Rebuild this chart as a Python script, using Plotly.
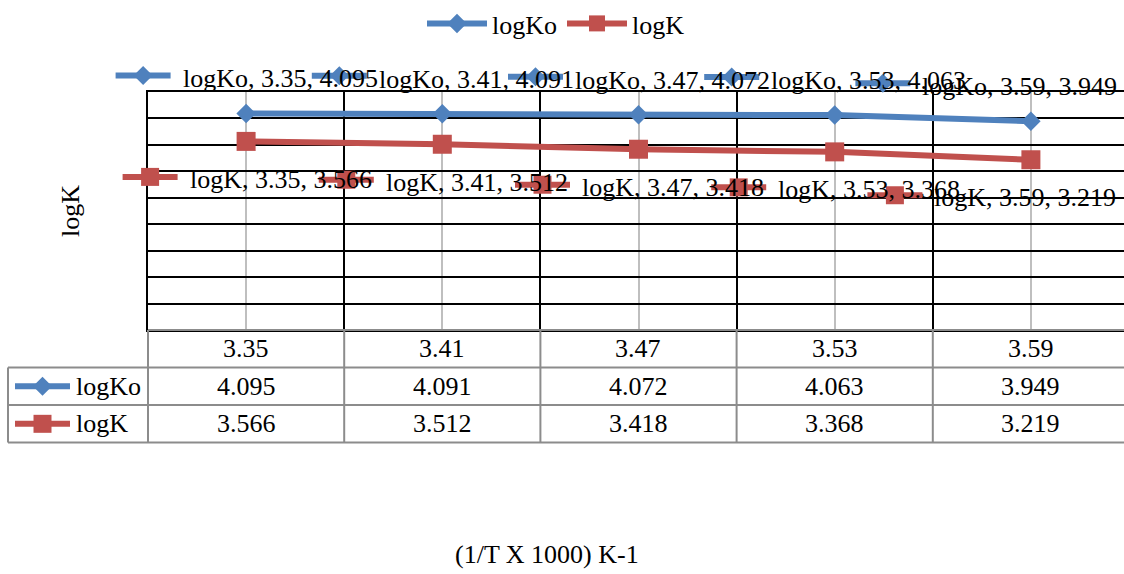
import plotly.graph_objects as go

# ---------------- data ----------------
categories = ["3.35", "3.41", "3.47", "3.53", "3.59"]
logKo = [4.095, 4.091, 4.072, 4.063, 3.949]
logK = [3.566, 3.512, 3.418, 3.368, 3.219]
series_names = ["logKo", "logK"]
x_title = "(1/T X 1000) K-1"
y_title = "logK"

# ---------------- style ----------------
BLUE = "#4F81BD"
RED = "#C0504D"
GRAY = "#8C8C8C"
LIGHT = "#BFBFBF"
FONT = "Liberation Serif"
FS = 26
W, H = 1124, 574
L, R, T, B = 148, 1124, 89, 330          # plot area in px
PXC = 196.2                              # px per category
XMIN = -0.5
XMAX = XMIN + (R - L) / PXC
YMIN, YMAX = 0.0, 4.5

# per-label horizontal shift (px) for the last labels pushed in from the edge
KO_SHIFT = [0, 0, 0, 0, -45]
K_SHIFT = [0, 0, 0, 0, -40]


def xpap(i):
    return (i - XMIN) / (XMAX - XMIN)


def ypap(v):
    return (v - YMIN) / (YMAX - YMIN)


def pxx(px):
    return (px - L) / (R - L)


def pyy(py):
    return (B - py) / (B - T)


xs = list(range(len(categories)))
shapes = []
annotations = []


def add_key(xa, ya, dx, dy, color, symbol):
    shapes.append(dict(type="line", xref="paper", yref="paper",
                       xsizemode="pixel", ysizemode="pixel",
                       xanchor=xa, yanchor=ya,
                       x0=dx - 27.5, x1=dx + 27.5, y0=dy, y1=dy,
                       line=dict(color=color, width=6)))
    if symbol == "diamond":
        r = 9.5
        path = (f"M{dx},{dy + r} L{dx + r},{dy} L{dx},{dy - r} "
                f"L{dx - r},{dy} Z")
        shapes.append(dict(type="path", xref="paper", yref="paper",
                           xsizemode="pixel", ysizemode="pixel",
                           xanchor=xa, yanchor=ya, path=path,
                           fillcolor=color, line=dict(width=0)))
    else:
        r = 9
        shapes.append(dict(type="rect", xref="paper", yref="paper",
                           xsizemode="pixel", ysizemode="pixel",
                           xanchor=xa, yanchor=ya,
                           x0=dx - r, x1=dx + r, y0=dy - r, y1=dy + r,
                           fillcolor=color, line=dict(width=0)))


def text(x, y, s, xanchor="center", xshift=0, yshift=0, angle=0):
    annotations.append(dict(x=x, y=y, xref="paper", yref="paper", text=s,
                            showarrow=False, xanchor=xanchor,
                            yanchor="middle", xshift=xshift, yshift=yshift,
                            textangle=angle,
                            font=dict(family=FONT, size=FS, color="black")))


fig = go.Figure()
fig.add_trace(go.Scatter(x=xs, y=logKo, name=series_names[0],
                         mode="lines+markers",
                         line=dict(color=BLUE, width=6),
                         marker=dict(symbol="diamond", size=15, color=BLUE)))
fig.add_trace(go.Scatter(x=xs, y=logK, name=series_names[1],
                         mode="lines+markers",
                         line=dict(color=RED, width=6),
                         marker=dict(symbol="square", size=19, color=RED)))

# data labels with legend keys
for i, (c, v) in enumerate(zip(categories, logKo)):
    s = KO_SHIFT[i]
    add_key(xpap(i), ypap(v), -103 + s, 38, BLUE, "diamond")
    text(xpap(i), ypap(v), f"{series_names[0]}, {c}, {v:.3f}",
         xanchor="left", xshift=-65.5 + s, yshift=34.5)
for i, (c, v) in enumerate(zip(categories, logK)):
    s = K_SHIFT[i]
    add_key(xpap(i), ypap(v), -96 + s, -35.5, RED, "square")
    text(xpap(i), ypap(v), f"{series_names[1]}, {c}, {v:.3f}",
         xanchor="left", xshift=-58.5 + s, yshift=-38)

# ---------------- data table ----------------
rows_y = [330, 368, 406, 444]
left_px = 8
right_p = 1.05


def hline(py, x0, x1):
    shapes.append(dict(type="line", xref="paper", yref="paper",
                       x0=x0, x1=x1, y0=pyy(py), y1=pyy(py),
                       line=dict(color=GRAY, width=2)))


def vline(xp, py0, py1):
    shapes.append(dict(type="line", xref="paper", yref="paper",
                       x0=xp, x1=xp, y0=pyy(py0), y1=pyy(py1),
                       line=dict(color=GRAY, width=2)))


hline(rows_y[0], 0, right_p)
for py in rows_y[1:]:
    hline(py, pxx(left_px), right_p)
vline(pxx(left_px), rows_y[1], rows_y[3])
for i in range(-1, len(categories)):
    vline(xpap(i + 0.5), rows_y[0], rows_y[3])

cy = [(rows_y[k] + rows_y[k + 1]) / 2 for k in range(3)]
for i, c in enumerate(categories):
    text(xpap(i), pyy(cy[0]), c)
    text(xpap(i), pyy(cy[1]), f"{logKo[i]:.3f}")
    text(xpap(i), pyy(cy[2]), f"{logK[i]:.3f}")

add_key(pxx(42.5), pyy(cy[1]), 0, 0, BLUE, "diamond")
add_key(pxx(42.5), pyy(cy[2]), 0, 0, RED, "square")
text(pxx(74), pyy(cy[1]), series_names[0], xanchor="left")
text(pxx(74), pyy(cy[2]), series_names[1], xanchor="left")

# axis titles
text(pxx(70), 0.5, y_title, angle=-90)
text(pxx(547), pyy(557), x_title)

fig.update_layout(
    width=W, height=H,
    margin=dict(l=L, r=W - R, t=T, b=H - B, pad=0),
    paper_bgcolor="white", plot_bgcolor="white",
    font=dict(family=FONT, size=FS, color="black"),
    showlegend=True,
    legend=dict(orientation="h", x=pxx(556), xanchor="center",
                y=pyy(19), yanchor="middle", itemwidth=60,
                font=dict(family=FONT, size=FS, color="black"),
                bgcolor="rgba(0,0,0,0)"),
    xaxis=dict(range=[XMIN, XMAX], tickvals=xs, showticklabels=False,
               ticks="", showgrid=True, gridcolor=LIGHT, gridwidth=2,
               minor=dict(tickvals=[i + 0.5 for i in xs[:-1]],
                          showgrid=True, gridcolor="black", gridwidth=2,
                          ticks=""),
               showline=True, mirror=True, linecolor="black", linewidth=2,
               zeroline=False, fixedrange=True),
    yaxis=dict(range=[YMIN, YMAX], tick0=0, dtick=0.5, showticklabels=False,
               ticks="", showgrid=True, gridcolor="black", gridwidth=2,
               showline=True, linecolor="black", linewidth=2,
               zeroline=False, fixedrange=True),
    shapes=shapes,
    annotations=annotations,
)

fig.write_html("out.html")
